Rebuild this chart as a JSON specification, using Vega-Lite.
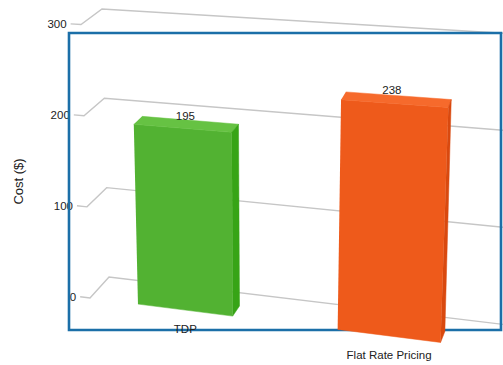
{
  "$schema": "https://vega.github.io/schema/vega-lite/v6.json",
  "width": 432,
  "height": 297,
  "autosize": "none",
  "padding": {"left": 69, "top": 33, "right": 2, "bottom": 35},
  "background": "white",
  "view": {"stroke": null},
  "config": {"text": {"font": "Liberation Sans", "fontSize": 11.5, "fill": "#222222"}},
  "datasets": {
    "plans": [
      {"Plan": "TDP", "Cost": 195, "slot": 0},
      {"Plan": "Flat Rate Pricing", "Cost": 238, "slot": 1}
    ],
    "ticks": [{"tick": 0}, {"tick": 100}, {"tick": 200}, {"tick": 300}]
  },
  "encoding": {
    "x": {"field": "sx", "type": "quantitative", "scale": {"domain": [69, 501]}, "axis": null},
    "y": {
      "field": "sy",
      "type": "quantitative",
      "scale": {"domain": [330, 33]},
      "axis": {
        "title": "Cost ($)",
        "labels": false,
        "ticks": false,
        "domain": false,
        "grid": false,
        "titleX": -44,
        "titleY": 148,
        "titleFont": "Liberation Sans",
        "titleFontSize": 13,
        "titleFontWeight": "normal",
        "titleColor": "#222222"
      }
    }
  },
  "layer": [
    {
      "description": "Gridlines: outward tick, left wall, back wall",
      "data": {"name": "ticks"},
      "transform": [
        {"calculate": "[0,1,2,3]", "as": "k"},
        {"flatten": ["k"]},
        {"calculate": "[-0.024,0,0,1][datum.k]", "as": "U"},
        {"calculate": "datum.tick", "as": "C"},
        {"calculate": "[0,0,1,1][datum.k]", "as": "D"},
        {"calculate": "lerp([lerp([lerp([90,500],datum.U),lerp([81,513],datum.U)],datum.C/300),lerp([lerp([109,508],datum.U),lerp([102,516],datum.U)],datum.C/300)],datum.D)", "as": "sx"},
        {"calculate": "lerp([lerp([lerp([298,350],datum.U),lerp([24.5,50],datum.U)],datum.C/300),lerp([lerp([277,325],datum.U),lerp([9,34],datum.U)],datum.C/300)],datum.D)", "as": "sy"}
      ],
      "mark": {"type": "line", "stroke": "#c6c6c6", "strokeWidth": 1.4, "interpolate": "linear"},
      "encoding": {"detail": {"field": "tick"}, "order": {"field": "k"}}
    },
    {
      "description": "Value labels of the cost axis",
      "data": {"name": "ticks"},
      "transform": [
        {"calculate": "-0.024", "as": "U"},
        {"calculate": "datum.tick", "as": "C"},
        {"calculate": "lerp([lerp([90,500],datum.U),lerp([81,513],datum.U)],datum.C/300)", "as": "sx"},
        {"calculate": "lerp([lerp([298,350],datum.U),lerp([24.5,50],datum.U)],datum.C/300)", "as": "sy"}
      ],
      "mark": {"type": "text", "align": "right", "baseline": "middle", "dx": -4, "dy": 1},
      "encoding": {"text": {"field": "tick", "type": "quantitative"}}
    },
    {
      "description": "Frame around the plot",
      "data": {"values": [{}]},
      "mark": {"type": "rect", "fillOpacity": 0, "stroke": "#1b6fa8", "strokeWidth": 2.6},
      "encoding": {
        "x": {"value": 0},
        "x2": {"value": "width"},
        "y": {"value": 0},
        "y2": {"value": "height"}
      }
    },
    {
      "description": "Three visible faces of each bar, projected from the plan's cost",
      "data": {"name": "plans"},
      "transform": [
        {"calculate": "[0,1,2]", "as": "f"},
        {"flatten": ["f"]},
        {"calculate": "[0,1,2,3]", "as": "k"},
        {"flatten": ["k"]},
        {"calculate": "datum.Plan + ' ' + ['front','top','side'][datum.f]", "as": "part"},
        {"calculate": "[0.117,0.604][datum.slot]", "as": "left"},
        {"calculate": "[0.348,0.855][datum.slot]", "as": "right"},
        {"calculate": "lerp([datum.left,datum.right],[[0,1,1,0],[0,1,1,0],[1,1,1,1]][datum.f][datum.k])", "as": "U"},
        {"calculate": "datum.Cost*[[0,0,1,1],[1,1,1,1],[0,0,1,1]][datum.f][datum.k]", "as": "C"},
        {"calculate": "0.45*[[0,0,0,0],[0,0,1,1],[0,1,1,0]][datum.f][datum.k]", "as": "D"},
        {"calculate": "lerp([lerp([lerp([90,500],datum.U),lerp([81,513],datum.U)],datum.C/300),lerp([lerp([109,508],datum.U),lerp([102,516],datum.U)],datum.C/300)],datum.D)", "as": "sx"},
        {"calculate": "lerp([lerp([lerp([298,350],datum.U),lerp([24.5,50],datum.U)],datum.C/300),lerp([lerp([277,325],datum.U),lerp([9,34],datum.U)],datum.C/300)],datum.D)", "as": "sy"}
      ],
      "mark": {"type": "line", "strokeWidth": 0.5, "interpolate": "linear"},
      "encoding": {
        "detail": {"field": "part"},
        "order": {"field": "k"},
        "fill": {
          "field": "part",
          "type": "nominal",
          "legend": null,
          "scale": {
            "domain": ["TDP front", "TDP top", "TDP side", "Flat Rate Pricing front", "Flat Rate Pricing top", "Flat Rate Pricing side"],
            "range": ["#52b232", "#66c243", "#37a416", "#ee5a1b", "#f66a2c", "#d9490f"]
          }
        },
        "stroke": {
          "field": "part",
          "type": "nominal",
          "legend": null,
          "scale": {
            "domain": ["TDP front", "TDP top", "TDP side", "Flat Rate Pricing front", "Flat Rate Pricing top", "Flat Rate Pricing side"],
            "range": ["#52b232", "#66c243", "#37a416", "#ee5a1b", "#f66a2c", "#d9490f"]
          }
        }
      }
    },
    {
      "description": "Cost printed above each bar",
      "data": {"name": "plans"},
      "transform": [
        {"calculate": "[0.2385,0.723][datum.slot]", "as": "U"},
        {"calculate": "datum.Cost", "as": "C"},
        {"calculate": "lerp([lerp([90,500],datum.U),lerp([81,513],datum.U)],datum.C/300)", "as": "sx"},
        {"calculate": "lerp([lerp([298,350],datum.U),lerp([24.5,50],datum.U)],datum.C/300)", "as": "sy"}
      ],
      "mark": {"type": "text", "baseline": "middle", "dy": -12},
      "encoding": {"text": {"field": "Cost", "type": "quantitative"}}
    },
    {
      "description": "Plan names under the bars",
      "data": {"name": "plans"},
      "transform": [
        {"calculate": "[0.2325,0.7295][datum.slot]", "as": "U"},
        {"calculate": "lerp([90,500],datum.U)", "as": "sx"},
        {"calculate": "lerp([298,350],datum.U)", "as": "sy"}
      ],
      "mark": {"type": "text", "baseline": "middle", "dy": 20},
      "encoding": {"text": {"field": "Plan", "type": "nominal"}}
    }
  ]
}
